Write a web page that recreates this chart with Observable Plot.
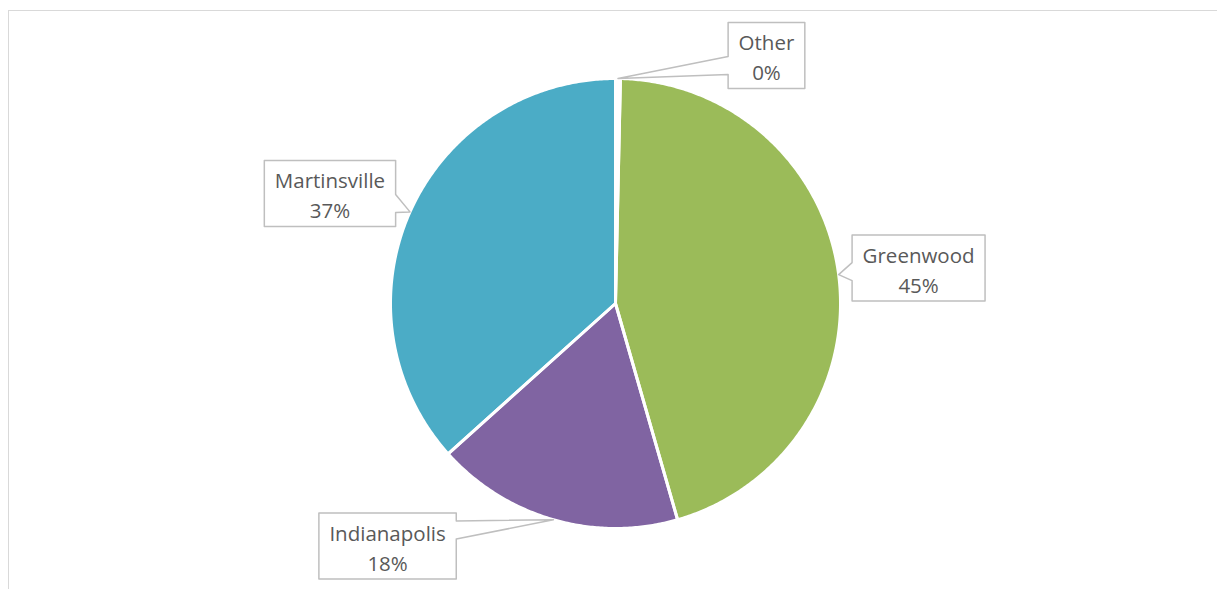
<!DOCTYPE html>
<html><head><meta charset="utf-8">
<script src="https://cdn.jsdelivr.net/npm/d3@7"></script>
<script src="https://cdn.jsdelivr.net/npm/@observablehq/plot@0.6"></script>
<style>
html,body{margin:0;padding:0;background:#fff;overflow:hidden;width:1217px;height:589px;}
#frame{position:absolute;left:8px;top:10px;width:1400px;height:800px;border:1.5px solid #d9d9d9;box-sizing:border-box;}
#chart{position:absolute;left:0;top:0;}
</style></head><body>
<div id="frame"></div><div id="chart"></div>
<script>
// ---- data ----
const categories = ["Other", "Greenwood", "Indianapolis", "Martinsville"];
const shares = [0.35, 45.2, 17.8, 36.65];
const colors = ["#ffffff", "#9BBB59", "#8064A2", "#4BACC6"];

// ---- layout (label box centres in pie-radius units) ----
const labelCentres = [[0.671, 1.102], [1.347, 0.158], [-1.013, -1.078], [-1.269, 0.489]];
const W = 1217, H = 589, CX = 615, CY = 303, R = 225;
const FONT = "Open Sans", FS = 20.5, PAD = 10.5, BOXH = 66;

const pie = d3.pie().sort(null).value(d => d)(shares);
const pct = shares.map(v => Math.round(v / d3.sum(shares) * 100));

// slice polygons in unit-circle data space
const sliceRows = [];
pie.forEach((p, i) => {
  const name = categories[i];
  sliceRows.push({name, x: 0, y: 0});
  const n = Math.max(2, Math.ceil((p.endAngle - p.startAngle) / (Math.PI / 360)));
  for (let k = 0; k <= n; k++) {
    const a = p.startAngle + (p.endAngle - p.startAngle) * k / n;
    sliceRows.push({name, x: Math.sin(a), y: Math.cos(a)});
  }
  sliceRows.push({name, x: 0, y: 0});
});

// measure label text
const ctx = document.createElement("canvas").getContext("2d");
ctx.font = `${FS}px "${FONT}"`;
const toUnit = (px, py) => ({x: (px - CX) / R, y: (CY - py) / R});

const calloutRows = [];
const textRows = [];
pie.forEach((p, i) => {
  const name = categories[i];
  const lines = [name, pct[i] + "%"];
  const tw = d3.max(lines, s => ctx.measureText(s).width);
  const bw = tw + 2 * PAD;
  const [ux, uy] = labelCentres[i];
  const bx = CX + ux * R, by = CY - uy * R;
  const L = bx - bw / 2, Rt = bx + bw / 2, T = by - BOXH / 2, B = by + BOXH / 2;
  const mid = (p.startAngle + p.endAngle) / 2;
  const tx = CX + Math.sin(mid) * R, ty = CY - Math.cos(mid) * R;
  const c = Math.min(Math.max(ty, T + 20), B - 20) - 3;
  const n1 = c - 9, n2 = c + 9;
  let pts;
  if (tx > Rt) {
    pts = [[L, T], [Rt, T], [Rt, n1], [tx, ty], [Rt, n2], [Rt, B], [L, B], [L, T]];
  } else {
    pts = [[L, T], [Rt, T], [Rt, B], [L, B], [L, n2], [tx, ty], [L, n1], [L, T]];
  }
  pts.forEach(([px, py]) => calloutRows.push({name, ...toUnit(px, py)}));
  textRows.push({name, x: ux, y: uy, label: lines.join("\n")});
});

const chart = Plot.plot({
  width: W, height: H, margin: 0,
  style: {background: "transparent", overflow: "visible"},
  x: {domain: [-1, 1], range: [CX - R, CX + R], axis: null},
  y: {domain: [-1, 1], range: [CY + R, CY - R], axis: null},
  color: {domain: categories, range: colors},
  marks: [
    Plot.line(sliceRows, {x: "x", y: "y", z: "name", fill: "name", stroke: "none", curve: "linear"}),
    Plot.line(sliceRows, {x: "x", y: "y", z: "name", stroke: "white", strokeWidth: 3, strokeLinejoin: "round", curve: "linear"}),
    Plot.line(calloutRows, {x: "x", y: "y", z: "name", fill: "white", stroke: "#bfbfbf", strokeWidth: 1.5, curve: "linear"}),
    Plot.text(textRows, {x: "x", y: "y", text: "label", fontSize: FS, fontFamily: FONT, fill: "#595959", lineHeight: 30 / FS, textAnchor: "middle", lineAnchor: "middle"})
  ]
});
document.getElementById("chart").appendChild(chart);
</script>
</body></html>
